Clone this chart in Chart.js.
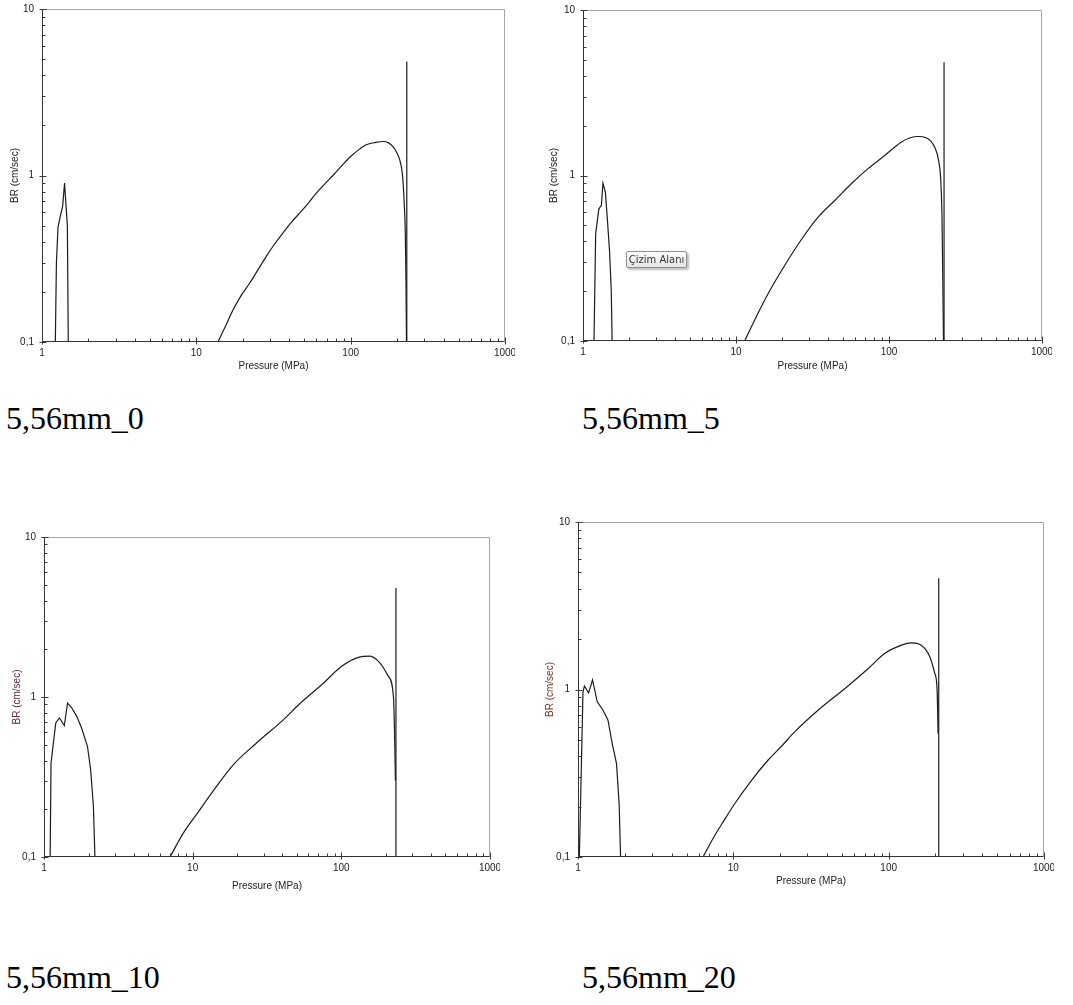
<!DOCTYPE html>
<html>
<head>
<meta charset="utf-8">
<title>BR vs Pressure</title>
<script src="https://cdn.jsdelivr.net/npm/chart.js@4.4.0/dist/chart.umd.min.js"></script>
<style>
  html, body { margin: 0; padding: 0; background: #fff; }
  body { width: 1073px; height: 1005px; position: relative; overflow: hidden; }
  .box { position: absolute; }
  .caption {
    position: absolute;
    font-family: "Liberation Serif", "Times New Roman", serif;
    font-size: 32px;
    line-height: 32px;
    color: #000;
    white-space: nowrap;
  }
  .hint {
    position: absolute;
    left: 626px; top: 251px; width: 59px; height: 15px;
    border: 1px solid #8e8e8e;
    border-radius: 2px;
    background: linear-gradient(#fdfdfd, #e6e6e6);
    box-shadow: 2px 2px 2px rgba(0,0,0,0.25);
    font-family: "DejaVu Sans", "Noto Sans", sans-serif;
    font-size: 10px;
    line-height: 15px;
    color: #333;
    text-align: center;
  }
</style>
</head>
<body>

<div class="box" id="wrap0"><canvas id="c0"></canvas></div>
<div class="box" id="wrap1"><canvas id="c1"></canvas></div>
<div class="box" id="wrap2"><canvas id="c2"></canvas></div>
<div class="box" id="wrap3"><canvas id="c3"></canvas></div>

<div class="caption" id="cap0"></div>
<div class="caption" id="cap1"></div>
<div class="caption" id="cap2"></div>
<div class="caption" id="cap3"></div>

<div class="hint">Çizim Alanı</div>

<script>
// Burning rate vs pressure, 5,56mm samples (log-log)

const captions = ['5,56mm_0', '5,56mm_5', '5,56mm_10', '5,56mm_20'];
const xTickValues = [1, 10, 100, 1000];
const xTickLabels = ['1', '10', '100', '1000'];
const yTickValues = [0.1, 1, 10];
const yTickLabels = ['0,1', '1', '10'];
const minorSteps = [2, 3, 4, 5, 6, 7, 8, 9];
const xTitle = 'Pressure (MPa)';
const yTitle = 'BR (cm/sec)';

// 5,56mm_0
const p0Low = [1.22, 1.24, 1.27, 1.32, 1.36, 1.40, 1.46, 1.48];
const br0Low = [0.1, 0.3, 0.49, 0.58, 0.65, 0.9, 0.5, 0.1];
const p0Main = [13.8, 15.5, 17.3, 19.5, 22.2, 25, 28.4, 32, 36.4, 41, 46.7, 53, 59.9, 68, 76.8, 88, 100, 113, 126, 145, 162, 176, 188, 200, 208, 214, 218, 222, 226, 228, 230];
const br0Main = [0.1, 0.125, 0.156, 0.19, 0.226, 0.27, 0.327, 0.385, 0.451, 0.52, 0.594, 0.68, 0.783, 0.89, 1.0, 1.15, 1.30, 1.43, 1.53, 1.58, 1.60, 1.57, 1.49, 1.36, 1.24, 1.10, 0.94, 0.70, 0.45, 0.25, 0.1];
const p0Spike = [231, 231];
const br0Spike = [0.1, 4.83];

// 5,56mm_5
const p5Low = [1.18, 1.21, 1.27, 1.32, 1.35, 1.40, 1.44, 1.49, 1.53, 1.55];
const br5Low = [0.1, 0.445, 0.629, 0.66, 0.9, 0.795, 0.56, 0.353, 0.202, 0.1];
const p5Main = [11.4, 13.2, 16.2, 20.8, 26.7, 34.4, 44.2, 56.7, 72.9, 93.7, 120, 138, 155, 175, 199, 211, 218, 222, 225, 227];
const br5Main = [0.1, 0.133, 0.193, 0.286, 0.409, 0.56, 0.706, 0.891, 1.10, 1.32, 1.59, 1.69, 1.72, 1.69, 1.48, 1.23, 0.93, 0.56, 0.212, 0.1];
const p5Spike = [229, 229];
const br5Spike = [0.1, 4.83];

// 5,56mm_10
const p10Low = [1.10, 1.115, 1.20, 1.27, 1.37, 1.44, 1.54, 1.66, 1.79, 1.96, 2.06, 2.15, 2.20];
const br10Low = [0.1, 0.387, 0.688, 0.739, 0.662, 0.917, 0.853, 0.757, 0.64, 0.492, 0.351, 0.207, 0.1];
const p10Main = [7.04, 8.65, 11.2, 14.5, 18.8, 26.9, 40.7, 52.7, 75.7, 100, 130, 156, 182, 207, 224, 228, 231];
const br10Main = [0.1, 0.141, 0.198, 0.277, 0.378, 0.516, 0.72, 0.91, 1.22, 1.55, 1.77, 1.80, 1.63, 1.35, 1.01, 0.6, 0.3];
const p10Spike = [233, 233];
const br10Spike = [0.1, 4.80];

// 5,56mm_20
const p20Low = [1.02, 1.077, 1.10, 1.17, 1.24, 1.33, 1.45, 1.56, 1.66, 1.77, 1.84, 1.88];
const br20Low = [0.1, 0.969, 1.05, 0.955, 1.14, 0.844, 0.752, 0.656, 0.476, 0.361, 0.208, 0.1];
const p20Main = [6.38, 7.40, 8.7, 10.2, 13.1, 16.7, 20.5, 24.8, 35.1, 52.1, 73.6, 94.2, 121, 140, 162, 184, 198, 205, 208];
const br20Main = [0.1, 0.129, 0.165, 0.208, 0.287, 0.378, 0.46, 0.558, 0.752, 1.01, 1.33, 1.64, 1.84, 1.90, 1.84, 1.57, 1.25, 1.0, 0.546];
const p20Spike = [210, 210];
const br20Spike = [0.1, 4.61];

const series = [
    [[p0Low, br0Low, false], [p0Main, br0Main, true], [p0Spike, br0Spike, false]],
    [[p5Low, br5Low, false], [p5Main, br5Main, true], [p5Spike, br5Spike, false]],
    [[p10Low, br10Low, false], [p10Main, br10Main, true], [p10Spike, br10Spike, false]],
    [[p20Low, br20Low, false], [p20Main, br20Main, true], [p20Spike, br20Spike, false]]
];

// where each panel sits on the page
const frames = [
    { left: 0,   top: 0,   width: 515, height: 380, yAxisW: 42, padTop: 9,  padRight: 10, xAxisH: 38, yTitlePad: 9,  titleColor: '#222' },
    { left: 535, top: 0,   width: 517, height: 380, yAxisW: 48, padTop: 10, padRight: 10, xAxisH: 39, yTitlePad: 13, titleColor: '#222' },
    { left: 0,   top: 520, width: 500, height: 380, yAxisW: 44, padTop: 17, padRight: 10, xAxisH: 43, yTitlePad: 11, titleColor: '#5a2848' },
    { left: 535, top: 505, width: 519, height: 390, yAxisW: 43, padTop: 17, padRight: 10, xAxisH: 38, yTitlePad: 9,  titleColor: '#6e3a2c' }
];
const captionPos = [[6, 402], [582, 402], [6, 961], [582, 961]];

const fontFamily = '"Liberation Sans", Arial, sans-serif';

function isDecade(v) {
    const l = Math.log10(v);
    return Math.abs(l - Math.round(l)) < 1e-6;
}

function labelFor(values, labels, v) {
    const i = values.findIndex(t => Math.abs(Math.log10(t) - Math.log10(v)) < 1e-6);
    return i >= 0 ? labels[i] : '';
}

// decades plus 2..9 between them
function logTicks(decades) {
    const out = [];
    decades.forEach((d, i) => {
        out.push(d);
        if (i < decades.length - 1) minorSteps.forEach(m => out.push(d * m));
    });
    return out;
}

// frame: dark left/bottom axes, grey top/right, ticks drawn inward
const frameAndTicks = {
    id: 'frameAndTicks',
    afterDraw(chart) {
        const { ctx, chartArea: a, scales } = chart;
        const L = Math.round(a.left) + 0.5, R = Math.round(a.right) - 0.5;
        const T = Math.round(a.top) + 0.5, B = Math.round(a.bottom) - 0.5;
        ctx.save();
        ctx.lineWidth = 1;
        ctx.strokeStyle = '#a6a6a6';
        ctx.beginPath();
        ctx.moveTo(L, T); ctx.lineTo(R, T); ctx.lineTo(R, B);
        ctx.stroke();

        ctx.strokeStyle = '#333';
        ctx.beginPath();
        ctx.moveTo(L, T); ctx.lineTo(L, B); ctx.lineTo(R, B);
        ctx.stroke();

        ctx.strokeStyle = '#3a3a3a';
        ctx.beginPath();
        logTicks(xTickValues).forEach(v => {
            const px = Math.round(scales.x.getPixelForValue(v)) + 0.5;
            const major = isDecade(v);
            ctx.moveTo(px, B + (major ? 3 : 0));
            ctx.lineTo(px, B - (major ? 4 : 3));
        });
        logTicks(yTickValues).forEach(v => {
            const py = Math.round(scales.y.getPixelForValue(v)) + 0.5;
            const major = isDecade(v);
            ctx.moveTo(L - (major ? 3 : 0), py);
            ctx.lineTo(L + (major ? 4 : 3), py);
        });
        ctx.stroke();
        ctx.restore();
    }
};

function makeChart(idx) {
    const f = frames[idx];
    const wrap = document.getElementById('wrap' + idx);
    wrap.style.left = f.left + 'px';
    wrap.style.top = f.top + 'px';
    const canvas = document.getElementById('c' + idx);
    canvas.width = f.width;
    canvas.height = f.height;

    const cap = document.getElementById('cap' + idx);
    cap.textContent = captions[idx];
    cap.style.left = captionPos[idx][0] + 'px';
    cap.style.top = captionPos[idx][1] + 'px';

    const datasets = series[idx].map(([px, br, smooth]) => ({
        data: px.map((p, i) => ({ x: p, y: br[i] })),
        borderColor: '#1c1c1c',
        borderWidth: 1.2,
        pointRadius: 0,
        cubicInterpolationMode: smooth ? 'monotone' : 'default',
        tension: 0,
        fill: false
    }));

    new Chart(canvas.getContext('2d'), {
        type: 'line',
        data: { datasets: datasets },
        options: {
            responsive: false,
            animation: false,
            devicePixelRatio: 1,
            layout: { padding: { top: f.padTop, right: f.padRight, left: 0, bottom: 0 } },
            plugins: { legend: { display: false }, tooltip: { enabled: false } },
            scales: {
                x: {
                    type: 'logarithmic',
                    min: xTickValues[0],
                    max: xTickValues[xTickValues.length - 1],
                    grid: { display: false, drawTicks: false },
                    border: { display: false },
                    afterBuildTicks(scale) { scale.ticks = xTickValues.map(v => ({ value: v })); },
                    ticks: {
                        autoSkip: false,
                        maxRotation: 0,
                        padding: 5,
                        color: '#222',
                        font: { family: fontFamily, size: 10 },
                        callback: v => labelFor(xTickValues, xTickLabels, v)
                    },
                    title: {
                        display: true,
                        text: xTitle,
                        color: '#222',
                        font: { family: fontFamily, size: 10 },
                        padding: { top: 0, bottom: 8 }
                    },
                    afterFit(scale) {
                        scale.height = f.xAxisH;
                        scale.paddingLeft = 0;
                        scale.paddingRight = 0;
                    }
                },
                y: {
                    type: 'logarithmic',
                    min: yTickValues[0],
                    max: yTickValues[yTickValues.length - 1],
                    grid: { display: false, drawTicks: false },
                    border: { display: false },
                    afterBuildTicks(scale) { scale.ticks = yTickValues.map(v => ({ value: v })); },
                    ticks: {
                        autoSkip: false,
                        padding: 8,
                        color: '#222',
                        font: { family: fontFamily, size: 10 },
                        callback: v => labelFor(yTickValues, yTickLabels, v)
                    },
                    title: {
                        display: true,
                        text: yTitle,
                        color: f.titleColor,
                        font: { family: fontFamily, size: 10 },
                        padding: { top: f.yTitlePad, bottom: 0 }
                    },
                    afterFit(scale) {
                        scale.width = f.yAxisW;
                        scale.paddingTop = 0;
                        scale.paddingBottom = 0;
                    }
                }
            }
        },
        plugins: [frameAndTicks]
    });
}

window.onload = function() {
    for (let i = 0; i < 4; i++) makeChart(i);
};
</script>
</body>
</html>
